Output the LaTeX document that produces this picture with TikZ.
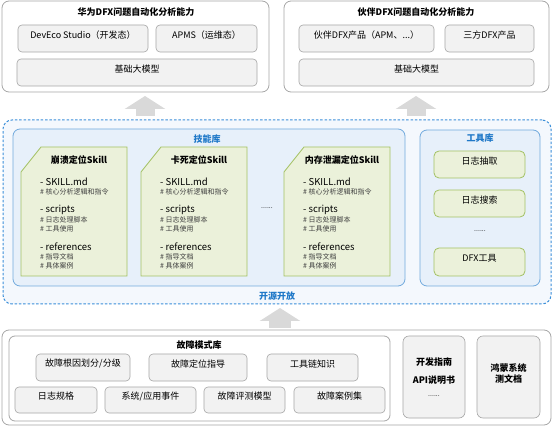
\documentclass[tikz,border=0pt]{standalone}
\usepackage{fontspec}
\setmainfont{Noto Sans CJK SC}
\usetikzlibrary{arrows.meta,fit}
\definecolor{boxgray}{HTML}{A6A6A6}
\definecolor{itemfill}{HTML}{F2F2F2}
\definecolor{dashblue}{HTML}{3B8FD9}
\definecolor{openfill}{HTML}{F4F8FD}
\definecolor{libfill}{HTML}{E7F0FA}
\definecolor{libdraw}{HTML}{72AADD}
\definecolor{titleblue}{HTML}{1F78C8}
\definecolor{cardfill}{HTML}{EBF1DA}
\definecolor{carddraw}{HTML}{A3C163}
\definecolor{arrowgray}{HTML}{D9D9D9}
\begin{document}
\begin{tikzpicture}[x=1pt,y=-1pt,
  font=\fontsize{9}{11}\selectfont,
  outer/.style={draw=boxgray,fill=white,rounded corners=7pt,line width=0.8pt,inner sep=0pt},
  item/.style={draw=boxgray,fill=itemfill,rounded corners=4pt,line width=0.6pt,inner sep=0pt,align=center},
  lib/.style={draw=libdraw,fill=libfill,rounded corners=7pt,line width=0.8pt,inner sep=0pt},
  tool/.style={draw=carddraw,fill=cardfill,rounded corners=5pt,line width=0.8pt,inner sep=0pt},
  card/.style={draw=carddraw,fill=cardfill,line width=0.8pt},
  head/.style={font=\fontsize{9}{11}\selectfont\bfseries},
  bluehead/.style={font=\fontsize{9}{11}\selectfont\bfseries,text=titleblue},
  entry/.style={anchor=west,inner sep=0pt,font=\fontsize{9.5}{11}\selectfont},
  note/.style={anchor=west,inner sep=0pt,font=\fontsize{7}{8}\selectfont,text=black!75},
  uparrow/.style={draw=arrowgray,line width=19pt,-{Triangle[length=13pt,width=40pt]}}]
\useasboundingbox (0,0) rectangle (554,427);

\node[outer,fit={(2,1) (269,92)}] (huawei) {};
\node[head] (huawei-t) at (136,12) {华为DFX问题自动化分析能力};
\node[item,fit={(18,25) (148,52)}] (deveco) {DevEco Studio（开发态）};
\node[item,fit={(156,25) (257,52)}] (apms) {APMS（运维态）};
\node[item,fit={(17,59) (257,86)}] (model-l) {基础大模型};

\node[outer,fit={(284,1) (549,92)}] (partner) {};
\node[head] (partner-t) at (416,12) {伙伴DFX问题自动化分析能力};
\node[item,fit={(299,25) (434,52)}] (apm) {伙伴DFX产品（APM、...）};
\node[item,fit={(445,25) (534,52)}] (third) {三方DFX产品};
\node[item,fit={(299,59) (534,86)}] (model-r) {基础大模型};

\node[draw=dashblue,fill=openfill,dash pattern=on 2.5pt off 1.8pt,line width=1pt,
  rounded corners=9pt,inner sep=0pt,fit={(3,120) (551,304)}] (open) {};
\node[bluehead] (open-t) at (277,296) {开源开放};

\node[lib,fit={(13,129) (405,286)}] (skills) {};
\node[bluehead] (skills-t) at (207,139) {技能库};
\foreach \cx/\ct/\cn in {21/崩溃定位Skill/crash,141/卡死定位Skill/freeze,284/内存泄漏定位Skill/leak} {
  \draw[card] (\cx,172) -- (\cx+20,147) -- (\cx+106,147) -- (\cx+106,276) -- (\cx,276) -- cycle;
  \node[head] (\cn-t) at (\cx+58,160) {\ct};
  \node[entry] (\cn-md) at (\cx+19,182) {- SKILL.md};
  \node[note] (\cn-md1) at (\cx+19,192) {\# 核心分析逻辑和指令};
  \node[entry] (\cn-sc) at (\cx+19,210) {- scripts};
  \node[note] (\cn-sc1) at (\cx+19,220) {\# 日志处理脚本};
  \node[note] (\cn-sc2) at (\cx+19,229) {\# 工具使用};
  \node[entry] (\cn-rf) at (\cx+19,247) {- references};
  \node[note] (\cn-rf1) at (\cx+19,257) {\# 指导文档};
  \node[note] (\cn-rf2) at (\cx+19,266) {\# 具体案例};
}
\node[font=\fontsize{7}{8}\selectfont] (skills-more) at (267,208) {......};

\node[lib,fit={(420,130) (540,286)}] (tools) {};
\node[bluehead] (tools-t) at (480,138) {工具库};
\node[tool,fit={(434,151) (525,178)}] (extract) {日志抽取};
\node[tool,fit={(434,190) (525,217)}] (search) {日志搜索};
\node[font=\fontsize{7}{8}\selectfont] (tools-more) at (480,231) {......};
\node[tool,fit={(434,248) (525,276)}] (dfx) {DFX工具};

\node[outer,fit={(2,330) (551,425)}] (base) {};
\node[outer,rounded corners=6pt,fit={(9,336) (390,421)}] (fault) {};
\node[head] (fault-t) at (199,345) {故障模式库};
\node[item,fit={(36,354) (130,381)}] (root) {故障根因划分/分级};
\node[item,fit={(149,354) (247,381)}] (locate) {故障定位指导};
\node[item,fit={(267,354) (358,381)}] (chain) {工具链知识};
\node[item,fit={(15,387) (97,413)}] (logspec) {日志规格};
\node[item,fit={(105,387) (196,413)}] (events) {系统/应用事件};
\node[item,fit={(204,387) (285,413)}] (eval) {故障评测模型};
\node[item,fit={(294,387) (385,413)}] (cases) {故障案例集};
\node[item,rounded corners=6pt,fit={(403,336) (465,418)}] (guide) {};
\node[head] (guide-1) at (434,362) {开发指南};
\node[head] (guide-2) at (434,380) {API说明书};
\node[font=\fontsize{7}{8}\selectfont] (guide-3) at (434,396) {......};
\node[item,rounded corners=6pt,fit={(477,336) (540,418)},head] (harmony) {鸿蒙系统\\测文档};

\coordinate (up-l) at (145,116);
\coordinate (up-r) at (416,116);
\coordinate (up-b) at (280,328);
\draw[uparrow] (up-l) -- (145,96);
\draw[uparrow] (up-r) -- (416,96);
\draw[uparrow,line width=22pt] (up-b) -- (280,308);
\end{tikzpicture}
\end{document}
